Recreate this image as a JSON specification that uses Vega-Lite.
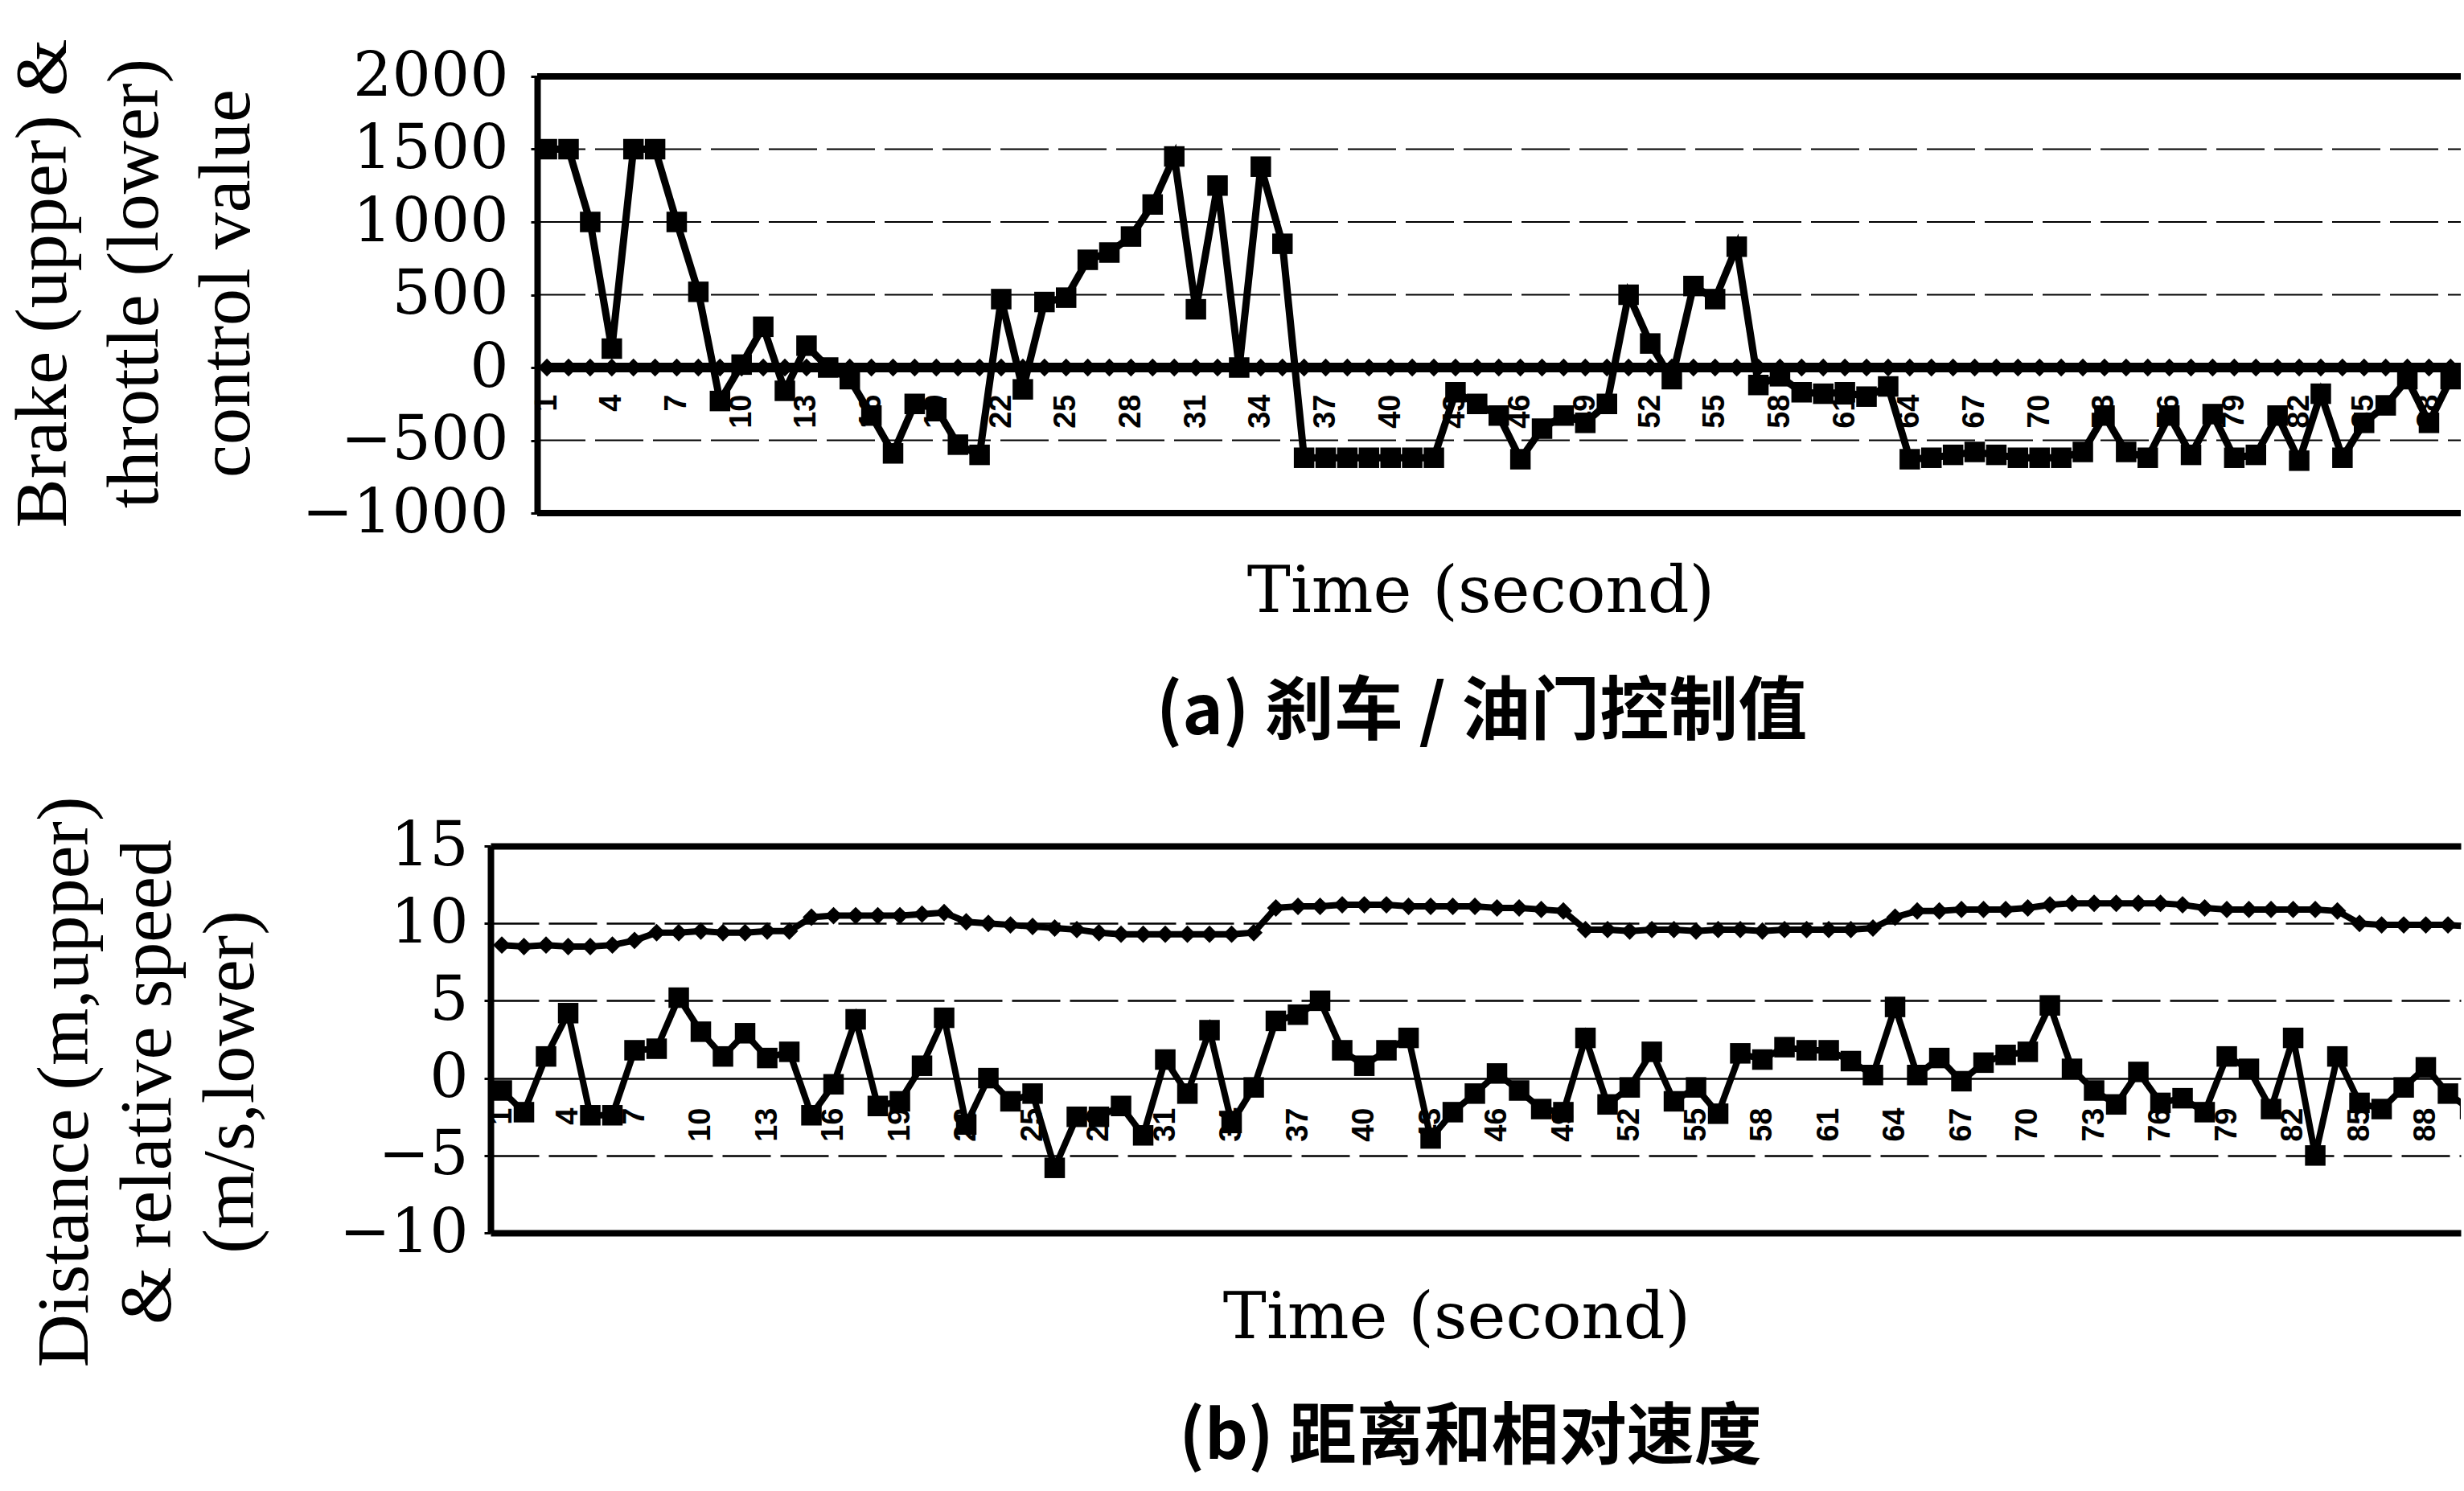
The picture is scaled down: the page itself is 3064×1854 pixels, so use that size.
{
  "$schema": "https://vega.github.io/schema/vega-lite/v6.json",
  "background": "white",
  "padding": {"left": 7, "top": 48, "right": 0, "bottom": 12},
  "config": {"view": {"stroke": null}},
  "columns": 1,
  "spacing": 60,
  "datasets": {
    "a1": [
      {"t":1,"v":1500},{"t":2,"v":1500},{"t":3,"v":1000},{"t":4,"v":130},{"t":5,"v":1500},{"t":6,"v":1500},{"t":7,"v":1000},{"t":8,"v":520},{"t":9,"v":-230},{"t":10,"v":20},
      {"t":11,"v":280},{"t":12,"v":-160},{"t":13,"v":150},{"t":14,"v":0},{"t":15,"v":-80},{"t":16,"v":-330},{"t":17,"v":-590},{"t":18,"v":-250},{"t":19,"v":-280},{"t":20,"v":-530},
      {"t":21,"v":-600},{"t":22,"v":470},{"t":23,"v":-150},{"t":24,"v":450},{"t":25,"v":480},{"t":26,"v":740},{"t":27,"v":790},{"t":28,"v":900},{"t":29,"v":1120},{"t":30,"v":1450},
      {"t":31,"v":400},{"t":32,"v":1250},{"t":33,"v":0},{"t":34,"v":1380},{"t":35,"v":850},{"t":36,"v":-620},{"t":37,"v":-620},{"t":38,"v":-620},{"t":39,"v":-620},{"t":40,"v":-620},
      {"t":41,"v":-620},{"t":42,"v":-620},{"t":43,"v":-170},{"t":44,"v":-250},{"t":45,"v":-330},{"t":46,"v":-630},{"t":47,"v":-420},{"t":48,"v":-330},{"t":49,"v":-380},{"t":50,"v":-250},
      {"t":51,"v":500},{"t":52,"v":165},{"t":53,"v":-80},{"t":54,"v":560},{"t":55,"v":470},{"t":56,"v":830},{"t":57,"v":-120},{"t":58,"v":-60},{"t":59,"v":-170},{"t":60,"v":-180},
      {"t":61,"v":-170},{"t":62,"v":-200},{"t":63,"v":-130},{"t":64,"v":-630},{"t":65,"v":-620},{"t":66,"v":-600},{"t":67,"v":-580},{"t":68,"v":-600},{"t":69,"v":-620},{"t":70,"v":-620},
      {"t":71,"v":-620},{"t":72,"v":-580},{"t":73,"v":-330},{"t":74,"v":-580},{"t":75,"v":-620},{"t":76,"v":-330},{"t":77,"v":-600},{"t":78,"v":-320},{"t":79,"v":-620},{"t":80,"v":-600},
      {"t":81,"v":-330},{"t":82,"v":-640},{"t":83,"v":-180},{"t":84,"v":-620},{"t":85,"v":-380},{"t":86,"v":-260},{"t":87,"v":-80},{"t":88,"v":-380},{"t":89,"v":-80},{"t":90,"v":0}
    ],
    "a0": [
      {"t":1,"v":0},{"t":2,"v":0},{"t":3,"v":0},{"t":4,"v":0},{"t":5,"v":0},{"t":6,"v":0},{"t":7,"v":0},{"t":8,"v":0},{"t":9,"v":0},{"t":10,"v":0},
      {"t":11,"v":0},{"t":12,"v":0},{"t":13,"v":0},{"t":14,"v":0},{"t":15,"v":0},{"t":16,"v":0},{"t":17,"v":0},{"t":18,"v":0},{"t":19,"v":0},{"t":20,"v":0},
      {"t":21,"v":0},{"t":22,"v":0},{"t":23,"v":0},{"t":24,"v":0},{"t":25,"v":0},{"t":26,"v":0},{"t":27,"v":0},{"t":28,"v":0},{"t":29,"v":0},{"t":30,"v":0},
      {"t":31,"v":0},{"t":32,"v":0},{"t":33,"v":0},{"t":34,"v":0},{"t":35,"v":0},{"t":36,"v":0},{"t":37,"v":0},{"t":38,"v":0},{"t":39,"v":0},{"t":40,"v":0},
      {"t":41,"v":0},{"t":42,"v":0},{"t":43,"v":0},{"t":44,"v":0},{"t":45,"v":0},{"t":46,"v":0},{"t":47,"v":0},{"t":48,"v":0},{"t":49,"v":0},{"t":50,"v":0},
      {"t":51,"v":0},{"t":52,"v":0},{"t":53,"v":0},{"t":54,"v":0},{"t":55,"v":0},{"t":56,"v":0},{"t":57,"v":0},{"t":58,"v":0},{"t":59,"v":0},{"t":60,"v":0},
      {"t":61,"v":0},{"t":62,"v":0},{"t":63,"v":0},{"t":64,"v":0},{"t":65,"v":0},{"t":66,"v":0},{"t":67,"v":0},{"t":68,"v":0},{"t":69,"v":0},{"t":70,"v":0},
      {"t":71,"v":0},{"t":72,"v":0},{"t":73,"v":0},{"t":74,"v":0},{"t":75,"v":0},{"t":76,"v":0},{"t":77,"v":0},{"t":78,"v":0},{"t":79,"v":0},{"t":80,"v":0},
      {"t":81,"v":0},{"t":82,"v":0},{"t":83,"v":0},{"t":84,"v":0},{"t":85,"v":0},{"t":86,"v":0},{"t":87,"v":0},{"t":88,"v":0},{"t":89,"v":0},{"t":90,"v":0}
    ],
    "agrid": [{"g": 500}, {"g": 1000}, {"g": 1500}, {"g": -500}],
    "aborder": [{"g": 2000}, {"g": -1000}],
    "b1": [
      {"t":1,"v":8.6},{"t":2,"v":8.5},{"t":3,"v":8.6},{"t":4,"v":8.5},{"t":5,"v":8.5},{"t":6,"v":8.6},{"t":7,"v":8.9},{"t":8,"v":9.4},{"t":9,"v":9.4},{"t":10,"v":9.5},
      {"t":11,"v":9.4},{"t":12,"v":9.4},{"t":13,"v":9.5},{"t":14,"v":9.5},{"t":15,"v":10.4},{"t":16,"v":10.5},{"t":17,"v":10.5},{"t":18,"v":10.5},{"t":19,"v":10.5},{"t":20,"v":10.6},
      {"t":21,"v":10.7},{"t":22,"v":10.1},{"t":23,"v":10.0},{"t":24,"v":9.9},{"t":25,"v":9.8},{"t":26,"v":9.7},{"t":27,"v":9.6},{"t":28,"v":9.4},{"t":29,"v":9.3},{"t":30,"v":9.3},
      {"t":31,"v":9.3},{"t":32,"v":9.3},{"t":33,"v":9.3},{"t":34,"v":9.3},{"t":35,"v":9.4},{"t":36,"v":11.0},{"t":37,"v":11.1},{"t":38,"v":11.1},{"t":39,"v":11.2},{"t":40,"v":11.2},
      {"t":41,"v":11.2},{"t":42,"v":11.1},{"t":43,"v":11.1},{"t":44,"v":11.1},{"t":45,"v":11.1},{"t":46,"v":11.0},{"t":47,"v":11.0},{"t":48,"v":10.9},{"t":49,"v":10.8},{"t":50,"v":9.6},
      {"t":51,"v":9.6},{"t":52,"v":9.5},{"t":53,"v":9.6},{"t":54,"v":9.6},{"t":55,"v":9.5},{"t":56,"v":9.6},{"t":57,"v":9.6},{"t":58,"v":9.5},{"t":59,"v":9.6},{"t":60,"v":9.6},
      {"t":61,"v":9.6},{"t":62,"v":9.6},{"t":63,"v":9.7},{"t":64,"v":10.4},{"t":65,"v":10.8},{"t":66,"v":10.8},{"t":67,"v":10.9},{"t":68,"v":10.9},{"t":69,"v":10.9},{"t":70,"v":11.0},
      {"t":71,"v":11.2},{"t":72,"v":11.3},{"t":73,"v":11.3},{"t":74,"v":11.3},{"t":75,"v":11.3},{"t":76,"v":11.3},{"t":77,"v":11.2},{"t":78,"v":11.0},{"t":79,"v":10.9},{"t":80,"v":10.9},
      {"t":81,"v":10.9},{"t":82,"v":10.9},{"t":83,"v":10.9},{"t":84,"v":10.8},{"t":85,"v":10.0},{"t":86,"v":9.9},{"t":87,"v":9.9},{"t":88,"v":9.9},{"t":89,"v":9.9},{"t":90,"v":9.8}
    ],
    "b2": [
      {"t":1,"v":-0.8},{"t":2,"v":-2.2},{"t":3,"v":1.4},{"t":4,"v":4.2},{"t":5,"v":-2.4},{"t":6,"v":-2.4},{"t":7,"v":1.8},{"t":8,"v":1.9},{"t":9,"v":5.2},{"t":10,"v":3.0},
      {"t":11,"v":1.4},{"t":12,"v":2.9},{"t":13,"v":1.3},{"t":14,"v":1.7},{"t":15,"v":-2.4},{"t":16,"v":-0.4},{"t":17,"v":3.8},{"t":18,"v":-1.8},{"t":19,"v":-1.5},{"t":20,"v":0.8},
      {"t":21,"v":3.9},{"t":22,"v":-3.0},{"t":23,"v":0.0},{"t":24,"v":-1.5},{"t":25,"v":-1.0},{"t":26,"v":-5.8},{"t":27,"v":-2.5},{"t":28,"v":-2.5},{"t":29,"v":-1.8},{"t":30,"v":-3.7},
      {"t":31,"v":1.2},{"t":32,"v":-1.0},{"t":33,"v":3.1},{"t":34,"v":-2.9},{"t":35,"v":-0.6},{"t":36,"v":3.7},{"t":37,"v":4.1},{"t":38,"v":5.0},{"t":39,"v":1.8},{"t":40,"v":0.8},
      {"t":41,"v":1.8},{"t":42,"v":2.6},{"t":43,"v":-3.9},{"t":44,"v":-2.2},{"t":45,"v":-1.0},{"t":46,"v":0.3},{"t":47,"v":-0.8},{"t":48,"v":-2.0},{"t":49,"v":-2.2},{"t":50,"v":2.6},
      {"t":51,"v":-1.7},{"t":52,"v":-0.6},{"t":53,"v":1.7},{"t":54,"v":-1.5},{"t":55,"v":-0.6},{"t":56,"v":-2.3},{"t":57,"v":1.6},{"t":58,"v":1.2},{"t":59,"v":2.0},{"t":60,"v":1.8},
      {"t":61,"v":1.8},{"t":62,"v":1.1},{"t":63,"v":0.2},{"t":64,"v":4.6},{"t":65,"v":0.2},{"t":66,"v":1.3},{"t":67,"v":-0.2},{"t":68,"v":1.0},{"t":69,"v":1.5},{"t":70,"v":1.7},
      {"t":71,"v":4.7},{"t":72,"v":0.6},{"t":73,"v":-0.8},{"t":74,"v":-1.7},{"t":75,"v":0.4},{"t":76,"v":-1.6},{"t":77,"v":-1.3},{"t":78,"v":-2.2},{"t":79,"v":1.4},{"t":80,"v":0.6},
      {"t":81,"v":-2.0},{"t":82,"v":2.6},{"t":83,"v":-5.0},{"t":84,"v":1.4},{"t":85,"v":-1.6},{"t":86,"v":-2.0},{"t":87,"v":-0.6},{"t":88,"v":0.7},{"t":89,"v":-1.0},{"t":90,"v":-2.0}
    ]
  },
  "concat": [
    {
      "width": 2450,
      "height": 543,
      "resolve": {"axis": {"x": "independent", "y": "independent"}},
      "layer": [
        {
          "data": {"name": "agrid"},
          "mark": {"type": "rule", "color": "black", "strokeWidth": 2, "strokeDash": [60, 12]},
          "encoding": {
            "y": {"field": "g", "type": "quantitative", "scale": {"domain": [-1000, 2000], "nice": false, "zero": false}, "axis": null},
            "x": {"datum": 0.55, "type": "quantitative", "scale": {"domain": [-1.606, 89.47], "nice": false, "zero": false}, "axis": null},
            "x2": {"datum": 89.47}
          }
        },
        {
          "data": {"name": "aborder"},
          "mark": {"type": "rule", "color": "black", "strokeWidth": 8},
          "encoding": {
            "y": {"field": "g", "type": "quantitative", "scale": {"domain": [-1000, 2000], "nice": false, "zero": false}, "axis": null},
            "x": {"datum": 0.55, "type": "quantitative", "scale": {"domain": [-1.606, 89.47], "nice": false, "zero": false}, "axis": null},
            "x2": {"datum": 89.47}
          }
        },
        {
          "data": {"name": "a1"},
          "mark": {"type": "line", "color": "black", "strokeWidth": 9, "clip": true},
          "encoding": {
            "x": {"field": "t", "type": "quantitative", "scale": {"domain": [-1.606, 89.47], "nice": false, "zero": false},
              "axis": {"orient": "bottom", "offset": -181, "title": null,
                "values": [1,4,7,10,13,16,19,22,25,28,31,34,37,40,43,46,49,52,55,58,61,64,67,70,73,76,79,82,85,88],
                "format": "d", "labelAngle": 270, "labelFont": "Liberation Sans", "labelFontSize": 38, "labelFontWeight": "bold",
                "labelColor": "black", "labelPadding": 33, "ticks": false, "domain": false, "grid": false,
                "labelOverlap": false, "labelFlush": false, "labelBound": false}},
            "y": {"field": "v", "type": "quantitative", "scale": {"domain": [-1000, 2000], "nice": false, "zero": false},
              "axis": {"orient": "left", "offset": -58, "title": ["Brake (upper) &", "throttle (lower)", "control value"],
                "values": [-1000, -500, 0, 500, 1000, 1500, 2000], "format": "d",
                "labelFont": "DejaVu Serif", "labelFontSize": 76, "labelColor": "black", "labelPadding": 28, "labelLimit": 0,
                "tickSize": 8, "tickWidth": 3, "tickColor": "black", "domainColor": "black", "domainWidth": 8,
                "grid": false, "maxExtent": 400,
                "titleFont": "Liberation Serif", "titleFontSize": 92, "titleFontWeight": "normal", "titleColor": "black",
                "titleLineHeight": 114, "titlePadding": 46, "titleY": 257, "titleLimit": 0,
                "labelFlush": false, "labelOverlap": false, "labelBound": false}}
          }
        },
        {
          "data": {"name": "a1"},
          "mark": {"type": "point", "shape": "square", "filled": true, "color": "black", "size": 650, "opacity": 1, "clip": true},
          "encoding": {
            "x": {"field": "t", "type": "quantitative", "scale": {"domain": [-1.606, 89.47], "nice": false, "zero": false}, "axis": null},
            "y": {"field": "v", "type": "quantitative", "scale": {"domain": [-1000, 2000], "nice": false, "zero": false}, "axis": null}
          }
        },
        {
          "data": {"name": "a0"},
          "mark": {"type": "line", "color": "black", "strokeWidth": 12, "clip": true},
          "encoding": {
            "x": {"field": "t", "type": "quantitative", "scale": {"domain": [-1.606, 89.47], "nice": false, "zero": false},
              "axis": {"orient": "bottom", "title": "Time (second)", "labels": false, "ticks": false, "domain": false, "grid": false,
                "titleX": 1231, "titleY": 122, "titleBaseline": "alphabetic", "titleAlign": "center", "titleAngle": 0, "titleLimit": 0,
                "titleFont": "DejaVu Serif", "titleFontSize": 81, "titleFontWeight": "normal", "titleColor": "black"}},
            "y": {"field": "v", "type": "quantitative", "scale": {"domain": [-1000, 2000], "nice": false, "zero": false}, "axis": null}
          }
        },
        {
          "data": {"name": "a0"},
          "mark": {"type": "point", "shape": "diamond", "filled": true, "color": "black", "size": 500, "opacity": 1, "clip": true},
          "encoding": {
            "x": {"field": "t", "type": "quantitative", "scale": {"domain": [-1.606, 89.47], "nice": false, "zero": false},
              "axis": {"orient": "bottom", "title": "(a) 刹车 / 油门控制值", "labels": false, "ticks": false, "domain": false, "grid": false,
                "titleX": 1232, "titleY": 274, "titleBaseline": "alphabetic", "titleAlign": "center", "titleAngle": 0, "titleLimit": 0,
                "titleFont": "Noto Sans CJK SC", "titleFontSize": 86, "titleFontWeight": "bold", "titleColor": "black"}},
            "y": {"field": "v", "type": "quantitative", "scale": {"domain": [-1000, 2000], "nice": false, "zero": false}, "axis": null}
          }
        }
      ]
    },
    {
      "width": 2450,
      "height": 481,
      "resolve": {"axis": {"x": "independent", "y": "independent"}},
      "layer": [
        {
          "data": {"name": "b1"},
          "mark": {"type": "line", "color": "black", "strokeWidth": 8, "clip": true},
          "encoding": {
            "x": {"field": "t", "type": "quantitative", "scale": {"domain": [0.49, 89.58], "nice": false, "zero": false},
              "axis": {"orient": "bottom", "offset": -192, "title": null,
                "values": [1,4,7,10,13,16,19,22,25,28,31,34,37,40,43,46,49,52,55,58,61,64,67,70,73,76,79,82,85,88],
                "format": "d", "labelAngle": 270, "labelFont": "Liberation Sans", "labelFontSize": 38, "labelFontWeight": "bold",
                "labelColor": "black", "labelPadding": 36, "ticks": false, "domain": false, "grid": false,
                "labelOverlap": false, "labelFlush": false, "labelBound": false}},
            "y": {"field": "v", "type": "quantitative", "scale": {"domain": [-10, 15], "nice": false, "zero": false},
              "axis": {"orient": "left", "title": ["Distance (m,upper)", "& relative speed", "(m/s,lower)"],
                "values": [-10, -5, 0, 5, 10, 15], "format": "d",
                "labelFont": "DejaVu Serif", "labelFontSize": 76, "labelColor": "black", "labelPadding": 20, "labelLimit": 0,
                "tickSize": 8, "tickWidth": 3, "tickColor": "black", "domainColor": "black", "domainWidth": 8,
                "grid": true, "gridColor": "black", "maxExtent": 400,
                "gridWidth": {"condition": {"test": "datum.value === 15 || datum.value === -10", "value": 8}, "value": 2.5},
                "gridDash": {"condition": {"test": "datum.value === 5 || datum.value === 10 || datum.value === -5", "value": [60, 12]}, "value": []},
                "titleFont": "Liberation Serif", "titleFontSize": 92, "titleFontWeight": "normal", "titleColor": "black",
                "titleLineHeight": 103, "titlePadding": 88, "titleY": 293, "titleLimit": 0,
                "labelFlush": false, "labelOverlap": false, "labelBound": false}}
          }
        },
        {
          "data": {"name": "b1"},
          "mark": {"type": "point", "shape": "diamond", "filled": true, "color": "black", "size": 480, "opacity": 1, "clip": true},
          "encoding": {
            "x": {"field": "t", "type": "quantitative", "scale": {"domain": [0.49, 89.58], "nice": false, "zero": false}, "axis": null},
            "y": {"field": "v", "type": "quantitative", "scale": {"domain": [-10, 15], "nice": false, "zero": false}, "axis": null}
          }
        },
        {
          "data": {"name": "b2"},
          "mark": {"type": "line", "color": "black", "strokeWidth": 8, "clip": true},
          "encoding": {
            "x": {"field": "t", "type": "quantitative", "scale": {"domain": [0.49, 89.58], "nice": false, "zero": false},
              "axis": {"orient": "bottom", "title": "Time (second)", "labels": false, "ticks": false, "domain": false, "grid": false,
                "titleX": 1201, "titleY": 130, "titleBaseline": "alphabetic", "titleAlign": "center", "titleAngle": 0, "titleLimit": 0,
                "titleFont": "DejaVu Serif", "titleFontSize": 81, "titleFontWeight": "normal", "titleColor": "black"}},
            "y": {"field": "v", "type": "quantitative", "scale": {"domain": [-10, 15], "nice": false, "zero": false}, "axis": null}
          }
        },
        {
          "data": {"name": "b2"},
          "mark": {"type": "point", "shape": "square", "filled": true, "color": "black", "size": 650, "opacity": 1, "clip": true},
          "encoding": {
            "x": {"field": "t", "type": "quantitative", "scale": {"domain": [0.49, 89.58], "nice": false, "zero": false},
              "axis": {"orient": "bottom", "title": "(b) 距离和相对速度", "labels": false, "ticks": false, "domain": false, "grid": false,
                "titleX": 1218, "titleY": 280, "titleBaseline": "alphabetic", "titleAlign": "center", "titleAngle": 0, "titleLimit": 0,
                "titleFont": "Noto Sans CJK SC", "titleFontSize": 84, "titleFontWeight": "bold", "titleColor": "black"}},
            "y": {"field": "v", "type": "quantitative", "scale": {"domain": [-10, 15], "nice": false, "zero": false}, "axis": null}
          }
        }
      ]
    }
  ]
}
